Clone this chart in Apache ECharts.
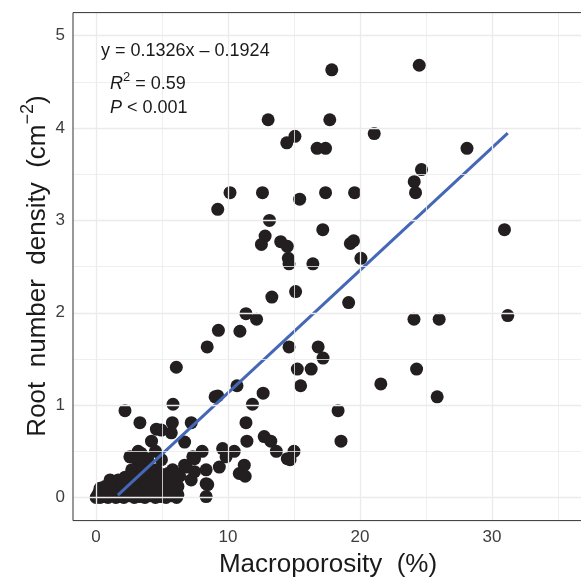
<!DOCTYPE html>
<html>
<head>
<meta charset="utf-8">
<script src="https://cdn.jsdelivr.net/npm/echarts@6/dist/echarts.min.js"></script>
<style>html,body{margin:0;padding:0;background:#fff}#c{width:581px;height:577px}</style>
</head>
<body>
<div id="c"></div>
<script>
// Macroporosity (%)
const macroporosity = [
  17.86,24.49,13.04,17.71,14.45,15.07,16.75,17.39,21.08,28.11,
  24.66,24.11,24.21,10.15,12.61,9.22,15.43,17.39,19.59,13.14,
  17.18,30.95,12.81,12.53,13.99,14.49,14.57,14.62,16.43,19.27,
  19.52,20.07,13.32,15.12,19.14,11.36,12.16,9.27,10.90,8.42,
  14.62,16.83,17.20,15.25,16.30,15.50,21.58,10.68,9.22,12.66,
  11.85,18.34,24.09,26.00,31.20,24.29,25.85,18.56,15.00,14.70,
  6.08,2.19,5.83,3.32,4.57,5.78,5.70,7.21,6.71,4.20,
  3.19,8.04,9.02,7.46,6.83,6.08,8.34,7.46,8.34,7.21,
  8.34,6.20,5.20,5.83,8.46,9.59,10.47,9.85,9.34,10.85,
  11.30,11.23,11.36,11.43,12.74,13.24,13.66,14.49,4.95,4.95,
  3.40,2.56,3.19,4.57,5.45,6.71,7.33,1.06,1.68,0.68,
  4.20,4.95,6.20,2.69,3.44,6.33,
  0.00,0.10,0.30,0.60,0.90,1.20,1.50,1.80,2.10,2.50,
  2.90,3.30,3.70,4.10,4.50,4.90,5.30,5.70,6.10,
  0.40,1.00,1.90,2.30,3.00,3.90,4.40,5.10,5.60,
  2.20,2.90,3.70,4.00,3.60,1.40,2.00,0.20,
  0.30,1.30,2.00,2.40,2.70,3.10,3.50,3.80,4.20,4.60,
  5.00,5.40,5.80,6.00,3.90,4.50
];
// Root number density (cm^-2)
const rootDensity = [
  4.63,4.68,4.09,4.09,3.84,3.91,3.78,3.78,3.94,3.78,
  3.55,3.42,3.30,3.30,3.30,3.12,3.23,3.30,3.30,3.00,
  2.90,2.90,2.83,2.74,2.77,2.72,2.59,2.53,2.53,2.75,
  2.78,2.59,2.17,2.23,2.11,1.99,1.93,1.81,1.80,1.63,
  1.63,1.63,1.51,1.39,1.39,1.21,1.23,1.21,1.10,1.13,
  1.01,0.94,1.93,1.93,1.97,1.39,1.09,0.61,0.50,0.41,
  1.41,0.94,1.01,0.81,0.74,0.81,0.70,0.81,0.60,0.61,
  0.50,0.50,1.09,0.42,0.33,0.26,0.30,0.28,0.15,0.19,
  0.01,0.03,0.19,0.14,0.14,0.53,0.50,0.44,0.33,0.26,
  0.23,0.35,0.81,0.61,0.66,0.61,0.50,0.42,0.73,0.41,
  0.48,0.44,0.39,0.30,0.26,0.35,0.44,0.19,0.19,0.12,
  0.19,0.15,0.12,0.14,0.12,0.23,
  0.00,0.02,0.00,0.01,0.00,0.02,0.00,0.01,0.00,0.02,
  0.00,0.01,0.00,0.02,0.00,0.01,0.00,0.02,0.00,
  0.06,0.08,0.10,0.07,0.09,0.06,0.10,0.08,0.05,
  0.22,0.28,0.30,0.22,0.20,0.10,0.15,0.05,
  0.10,0.10,0.12,0.20,0.30,0.22,0.28,0.15,0.30,0.18,
  0.25,0.18,0.30,0.12,0.42,0.50
];
// Fit: y = 0.1326x - 0.1924 over the fitted x range
const fitSlope = 0.1326;
const fitIntercept = -0.1924;
const fitXRange = [1.65, 31.2];

const xTicks = [0, 10, 20, 30];
const xMinor = [5, 15, 25, 35];
const yTicks = [0, 1, 2, 3, 4, 5];
const yMinor = [0.5, 1.5, 2.5, 3.5, 4.5];

const points = macroporosity.map((x, i) => [x, rootDensity[i]]);
const fitLine = fitXRange.map(x => [x, fitSlope * x + fitIntercept]);

const FONT = 'Liberation Sans, Arial, sans-serif';
const gridMarks = []
  .concat(xTicks.map(v => ({xAxis: v, lineStyle: {width: 1.3}})))
  .concat(xMinor.map(v => ({xAxis: v, lineStyle: {width: 0.8}})))
  .concat(yTicks.map(v => ({yAxis: v, lineStyle: {width: 1.3}})))
  .concat(yMinor.map(v => ({yAxis: v, lineStyle: {width: 0.8}})));

const GL = 73, GT = 12.6, GW = 511, GH = 508;

const chart = echarts.init(document.getElementById('c'), null, {renderer: 'canvas'});
chart.setOption({
  animation: false,
  backgroundColor: '#ffffff',
  grid: {left: GL, top: GT, width: GW, height: GH, containLabel: false},
  xAxis: {
    type: 'value', min: -1.75, max: 36.75,
    splitLine: {show: false},
    axisLine: {show: false},
    axisTick: {show: true, customValues: xTicks, length: 5, lineStyle: {color: '#333333', width: 1}},
    axisLabel: {customValues: xTicks, color: '#3d3d3d', fontSize: 17, margin: 8, fontFamily: FONT}
  },
  yAxis: {
    type: 'value', min: -0.25, max: 5.25,
    splitLine: {show: false},
    axisLine: {show: false},
    axisTick: {show: true, customValues: yTicks, length: 5, lineStyle: {color: '#333333', width: 1}},
    axisLabel: {customValues: yTicks, color: '#3d3d3d', fontSize: 17, margin: 8, fontFamily: FONT}
  },
  series: [
    {
      type: 'line', data: [], z: 1, silent: true,
      markLine: {
        silent: true, symbol: ['none', 'none'], label: {show: false},
        lineStyle: {type: 'solid', color: '#ebebeb'},
        data: gridMarks
      }
    },
    {
      type: 'scatter', data: points, z: 3, symbolSize: 13,
      itemStyle: {color: '#231f20', opacity: 1}
    },
    {
      type: 'line', data: fitLine, z: 4, symbol: 'none',
      lineStyle: {color: '#4467b6', width: 3}
    }
  ],
  graphic: [
    {type: 'rect', z: 100, silent: true,
      shape: {x: GL, y: GT, width: GW, height: GH},
      style: {fill: null, stroke: '#333333', lineWidth: 1}},
    {type: 'text', z: 100, left: 101, top: 42,
      style: {text: 'y = 0.1326x \u2013 0.1924', font: '18px ' + FONT, fill: '#1a1a1a'}},
    {type: 'text', z: 100, left: 110, top: 71,
      style: {text: '{i|R}{s|2}{n| = 0.59}', font: '18px ' + FONT, fill: '#1a1a1a',
        rich: {
          i: {fontStyle: 'italic', fontSize: 18, fontFamily: FONT, verticalAlign: 'bottom', lineHeight: 22},
          s: {fontSize: 13, fontFamily: FONT, verticalAlign: 'top', lineHeight: 22},
          n: {fontSize: 18, fontFamily: FONT, verticalAlign: 'bottom', lineHeight: 22}
        }}},
    {type: 'text', z: 100, left: 110, top: 99,
      style: {text: '{i|P}{n| < 0.001}', font: '18px ' + FONT, fill: '#1a1a1a',
        rich: {
          i: {fontStyle: 'italic', fontSize: 18, fontFamily: FONT},
          n: {fontSize: 18, fontFamily: FONT}
        }}},
    {type: 'text', z: 100, x: 328, y: 565,
      style: {text: 'Macroporosity  (%)', font: '26px ' + FONT, fill: '#1a1a1a', align: 'center', verticalAlign: 'middle'}},
    {type: 'text', z: 100, x: 35, y: 266, rotation: Math.PI / 2,
      style: {text: '{n|Root  number  density  (cm}{s|\u22122}{n|)}', fill: '#1a1a1a', align: 'center', verticalAlign: 'middle',
        rich: {
          n: {fontSize: 26, fontFamily: FONT, verticalAlign: 'bottom', lineHeight: 32},
          s: {fontSize: 18, fontFamily: FONT, verticalAlign: 'top', lineHeight: 32}
        }}}
  ]
});
</script>
</body>
</html>
